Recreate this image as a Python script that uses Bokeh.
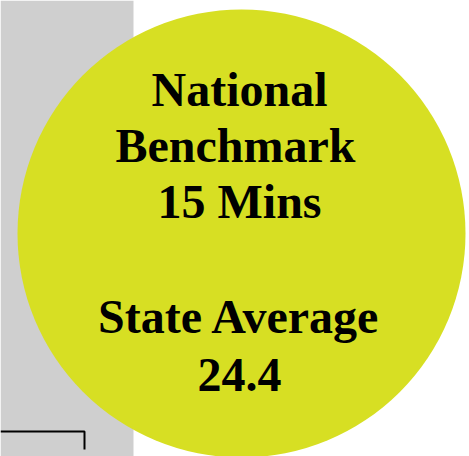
from bokeh.plotting import figure
from bokeh.models import Range1d, ColumnDataSource
from bokeh.core.properties import value
from bokeh.embed import file_html
from bokeh.resources import INLINE

# Content
benchmark_label = ["National", "Benchmark"]
benchmark_value = ["15 Mins"]
state_label = ["State Average"]
state_value = [24.4]

lines = benchmark_label + benchmark_value + [""] + state_label + [f"{state_value[0]:.1f}"]

# Page geometry (screen-like coordinates, y down)
W, H = 469, 456
p = figure(width=W, height=H, output_backend="svg",
           toolbar_location=None, x_range=Range1d(0, W),
           y_range=Range1d(H, 0), min_border=0)
p.axis.visible = False
p.grid.visible = False
p.outline_line_color = None
p.background_fill_color = "white"
p.border_fill_color = "white"

# grey panel on left
p.quad(left=[0], right=[133], top=[0], bottom=[H], fill_color="#CFCFCF", line_color=None)

# black bracket line
p.line(x=[0, 84, 84], y=[431, 431, 449], line_color="black", line_width=2)

# big circle
p.circle(x=[241], y=[233], radius=224, fill_color="#D7DF23", line_color=None)

# text
cx = 239
base0 = 89
step = 56
ys = [base0 + i * step for i in range(len(lines))]
ys[4] = 316
ys[5] = 374
xs = [cx] * len(lines)
xs[1] = cx - 4
src = ColumnDataSource(dict(x=xs, y=ys, t=lines))
p.text(x="x", y="y", text="t", source=src, text_font=value("Liberation Serif"),
       text_font_style="bold", text_font_size="48px", text_align="center",
       text_baseline="alphabetic", text_color="black")

open("out.html", "w").write(file_html(p, INLINE))
